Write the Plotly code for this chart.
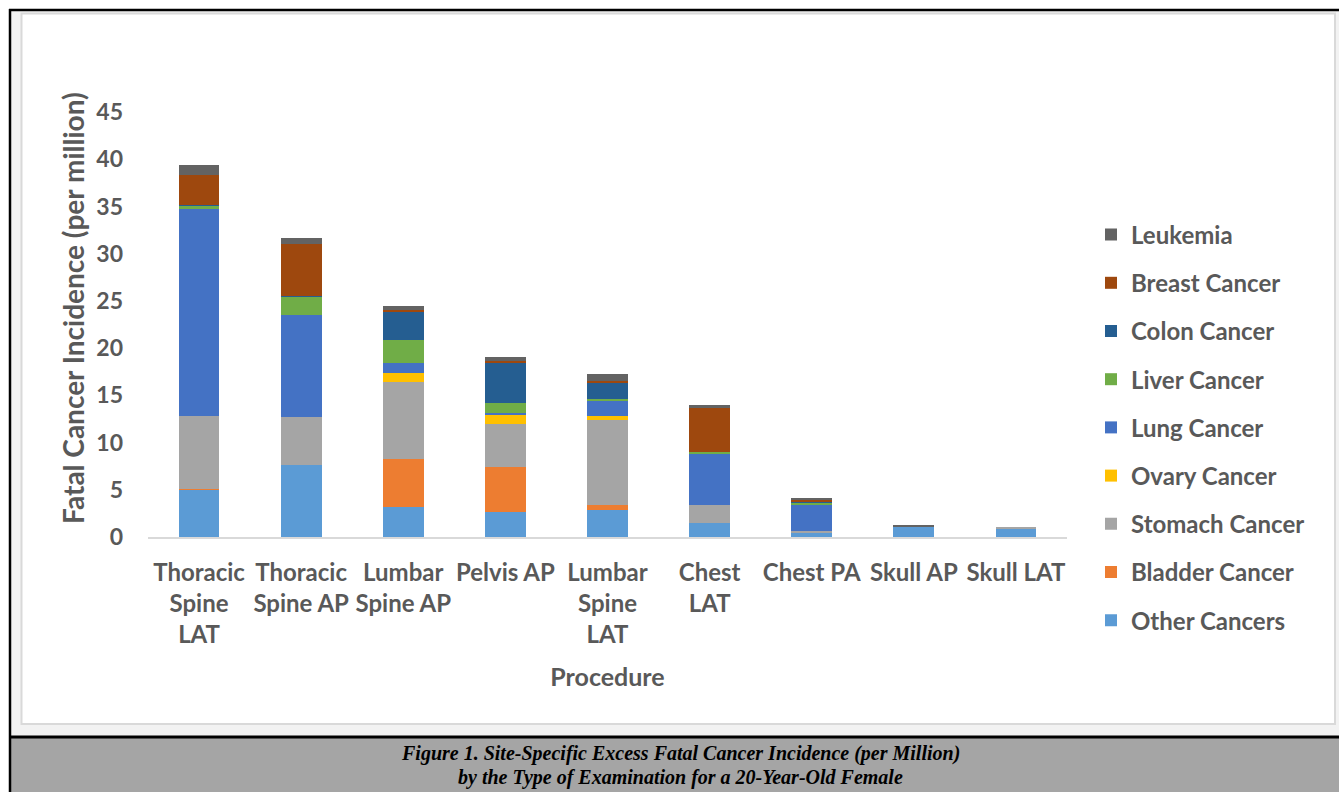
import plotly.graph_objects as go

# Procedures (x categories), wrapped the way the axis shows them
procedures = [
    "Thoracic<br>Spine<br>LAT", "Thoracic<br>Spine AP", "Lumbar<br>Spine AP",
    "Pelvis AP", "Lumbar<br>Spine<br>LAT", "Chest<br>LAT", "Chest PA",
    "Skull AP", "Skull LAT",
]

# Site-specific fatal cancer incidence per million, one list per cancer site
other_cancers = [5.05, 7.66, 3.14, 2.65, 2.86, 1.45, 0.46, 1.06, 0.95]
bladder_cancer = [0.05, 0.0, 5.08, 4.76, 0.53, 0.0, 0.0, 0.0, 0.0]
stomach_cancer = [7.69, 5.0, 8.23, 4.59, 9.03, 1.94, 0.21, 0.05, 0.14]
ovary_cancer = [0.0, 0.0, 0.92, 0.95, 0.43, 0.0, 0.0, 0.0, 0.0]
lung_cancer = [21.96, 10.8, 1.09, 0.15, 1.52, 5.47, 2.79, 0.05, 0.0]
liver_cancer = [0.35, 1.98, 2.4, 1.09, 0.24, 0.14, 0.17, 0.0, 0.0]
colon_cancer = [0.05, 0.1, 3.0, 4.27, 1.66, 0.05, 0.1, 0.0, 0.0]
breast_cancer = [3.17, 5.5, 0.21, 0.21, 0.25, 4.63, 0.2, 0.0, 0.0]
leukemia = [1.1, 0.67, 0.39, 0.42, 0.74, 0.31, 0.18, 0.15, 0.0]

y_ticks = [0, 5, 10, 15, 20, 25, 30, 35, 40, 45]

series = [
    ("Other Cancers", other_cancers, "#5B9BD5"),
    ("Bladder Cancer", bladder_cancer, "#ED7D31"),
    ("Stomach Cancer", stomach_cancer, "#A5A5A5"),
    ("Ovary Cancer", ovary_cancer, "#FFC000"),
    ("Lung Cancer", lung_cancer, "#4472C4"),
    ("Liver Cancer", liver_cancer, "#70AD47"),
    ("Colon Cancer", colon_cancer, "#255E91"),
    ("Breast Cancer", breast_cancer, "#9E480E"),
    ("Leukemia", leukemia, "#636363"),
]

W, H = 1339, 792
ML, MR, MT, MB = 148, 272, 112, 255
PW, PH = W - ML - MR, H - MT - MB


def px(x):
    return (x - ML) / PW


def py(y):
    return (H - MB - y) / PH


TEXT = "#595959"
FONT = "Lato"

fig = go.Figure()
n = len(series)
for i, (name, vals, color) in enumerate(series):
    fig.add_trace(go.Bar(
        x=procedures, y=vals, name=name, legendgroup=name,
        legendrank=100 * (n - i),
        marker=dict(color=color, line=dict(width=0)),
    ))

# Frame: page border, light surround, white chart box and caption band
shapes = [
    dict(type="rect", x0=px(11), x1=px(W), y0=py(11), y1=py(736),
         fillcolor="#F2F2F2", line=dict(width=0)),
    dict(type="rect", x0=px(21.5), x1=px(1335), y0=py(13.5), y1=py(724),
         fillcolor="white", line=dict(color="#D9D9D9", width=2)),
    dict(type="rect", x0=px(11), x1=px(W), y0=py(738), y1=py(H),
         fillcolor="#A5A5A5", line=dict(width=0)),
    dict(type="line", x0=px(9), x1=px(W), y0=py(10), y1=py(10),
         line=dict(color="black", width=2.5)),
    dict(type="line", x0=px(10), x1=px(10), y0=py(9), y1=py(H),
         line=dict(color="black", width=2.5)),
    dict(type="line", x0=px(9), x1=px(W), y0=py(737), y1=py(737),
         line=dict(color="black", width=3)),
]
for s in shapes:
    s.update(xref="paper", yref="paper", layer="below")

caption_font = dict(family="Liberation Serif", size=20, color="black",
                    weight="bold", style="italic")
title_font = dict(family=FONT, size=28, color=TEXT, weight="bold")
annotations = [
    dict(text="Figure 1. Site-Specific Excess Fatal Cancer Incidence (per Million)",
         x=px(680), y=py(753), xref="paper", yref="paper",
         showarrow=False, font=caption_font, xanchor="center", yanchor="middle"),
    dict(text="by the Type of Examination for a 20-Year-Old Female",
         x=px(680), y=py(777), xref="paper", yref="paper",
         showarrow=False, font=caption_font, xanchor="center", yanchor="middle"),
    # y-axis title
    dict(text="Fatal Cancer Incidence (per million)", textangle=-90,
         x=px(73), y=py(308), xref="paper", yref="paper",
         showarrow=False, font=title_font, xanchor="center", yanchor="middle"),
]

fig.update_layout(
    width=W, height=H,
    margin=dict(l=ML, r=MR, t=MT, b=MB, autoexpand=False),
    paper_bgcolor="white", plot_bgcolor="rgba(0,0,0,0)",
    barmode="stack", bargap=0.6,
    font=dict(family=FONT, color=TEXT, size=24, weight="bold"),
    shapes=shapes, annotations=annotations,
    showlegend=True,
    legend=dict(
        xref="container", yref="container",
        x=1091 / W, y=1 - 212.5 / H, xanchor="left", yanchor="top",
        traceorder="grouped", tracegroupgap=14, maxheight=600,
        font=dict(family=FONT, size=24, color=TEXT, weight="bold"),
        bgcolor="rgba(0,0,0,0)",
    ),
    xaxis=dict(
        showgrid=False, showline=True, linecolor="#D9D9D9", linewidth=2,
        ticks="", tickfont=dict(size=24), automargin=False,
        ticklabelstandoff=13,
        title=dict(text="Procedure", standoff=21,
                   font=dict(size=25, family=FONT, color=TEXT, weight="bold")),
    ),
    yaxis=dict(
        range=[0, 45], tickvals=y_ticks, showgrid=False, zeroline=False,
        showline=False, ticks="", automargin=False, ticklabelstandoff=24,
        tickfont=dict(size=23),
    ),
)

fig.write_html("out.html")
